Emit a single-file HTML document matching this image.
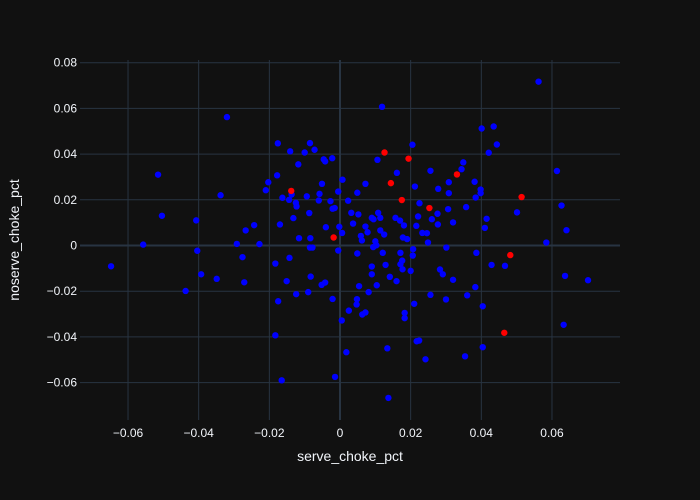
<!DOCTYPE html>
<html>
<head>
<meta charset="utf-8">
<style>
  html,body{margin:0;padding:0;background:#111111;}
  svg{display:block;font-family:"Liberation Sans",sans-serif;}
</style>
</head>
<body>
<svg id="chart" width="700" height="500" viewBox="0 0 700 500">
  <rect x="0" y="0" width="700" height="500" fill="#111111"/>
  <g id="grid"></g>
  <g id="xticks"></g>
  <g id="yticks"></g>
  <g id="blue"></g>
  <g id="red"></g>
  <text x="350" y="461" text-anchor="middle" font-size="14" fill="#f2f5fa">serve_choke_pct</text>
  <text transform="translate(19,240) rotate(-90)" text-anchor="middle" font-size="14" fill="#f2f5fa">noserve_choke_pct</text>
</svg>
<script>
const xTicks = [-0.06,-0.04,-0.02,0,0.02,0.04,0.06];
const yTicks = [-0.06,-0.04,-0.02,0,0.02,0.04,0.06,0.08];
const xTickLabels = ["−0.06","−0.04","−0.02","0","0.02","0.04","0.06"];
const yTickLabels = ["−0.06","−0.04","−0.02","0","0.02","0.04","0.06","0.08"];

const blueX = [-0.032,-0.0515,-0.0338,-0.0504,-0.0407,-0.0267,-0.0243,
0.0119,-0.0176,-0.0085,-0.0141,-0.0100,-0.0072,-0.0046,-0.0042,-0.0022,-0.0118,0.0106,0.0205,0.0161,0.0256,-0.0178,-0.0203,-0.0210,0.0007,-0.0051,0.0072,0.0212,0.0278,-0.0137,-0.0163,-0.0144,-0.0094,-0.0058,-0.0005,0.0049,-0.0060,-0.0027,0.0023,-0.0125,-0.0123,-0.0021,-0.0015,-0.0087,0.0225,-0.0132,-0.0170,0.0032,0.0052,0.0108,0.0090,0.0095,0.0114,0.0157,0.0170,0.0181,0.0221,0.0216,0.0276,0.0260,0.0277,0.0233,0.0246,0.0037,0.0072,-0.0040,-0.0002,0.0006,0.0078,0.0059,0.0114,0.0125,-0.0116,-0.0084,0.0178,0.0190,
0.0562,0.0401,0.0435,0.0444,0.0421,0.0349,0.0344,0.0614,0.0308,0.0381,0.0308,0.0398,0.0398,0.0384,0.0627,0.0306,0.0357,0.0501,0.0415,0.0320,0.0410,0.0641,
-0.0557,-0.0648,-0.0404,-0.0292,-0.0228,-0.0276,-0.0393,-0.0349,-0.0271,-0.0437,
0.0062,0.0100,0.0094,0.0103,0.0249,-0.0085,-0.0078,-0.0005,0.0049,0.0121,0.0171,0.0207,0.0206,-0.0143,-0.0183,0.0090,0.0129,0.0171,0.0176,0.0177,0.0200,0.0090,0.0283,-0.0083,-0.0151,-0.0052,-0.0042,0.0141,0.0160,0.0054,0.0104,0.0081,-0.0124,-0.0090,-0.0021,-0.0175,0.0048,0.0047,0.0256,0.0210,0.0025,0.0063,0.0072,0.0183,0.0183,0.0005,-0.0183,0.0217,0.0224,0.0134,0.0018,0.0242,-0.0014,-0.0165,0.0137,
0.0301,0.0386,0.0584,0.0429,0.0467,0.0291,0.0320,0.0637,0.0702,0.0383,0.0300,0.0360,0.0404,0.0633,0.0404,0.0354];
const blueY = [0.0562,0.0310,0.0220,0.0130,0.0110,0.0066,0.0089,
0.0607,0.0447,0.0448,0.0412,0.0407,0.0419,0.0377,0.0368,0.0382,0.0355,0.0375,0.0441,0.0318,0.0327,0.0307,0.0277,0.0242,0.0288,0.0270,0.0270,0.0258,0.0248,0.0223,0.0209,0.0200,0.0215,0.0226,0.0236,0.0231,0.0197,0.0194,0.0196,0.0187,0.0171,0.0161,0.0164,0.0142,0.0185,0.0120,0.0092,0.0143,0.0136,0.0143,0.0121,0.0115,0.0121,0.0121,0.0109,0.0088,0.0127,0.0086,0.0139,0.0115,0.0092,0.0055,0.0054,0.0096,0.0083,0.0080,0.0082,0.0055,0.0058,0.0042,0.0066,0.0048,0.0032,0.0032,0.0035,0.0028,
0.0717,0.0512,0.0521,0.0442,0.0406,0.0364,0.0334,0.0326,0.0277,0.0279,0.0229,0.0245,0.0229,0.0210,0.0175,0.0159,0.0168,0.0145,0.0117,0.0101,0.0077,0.0067,
0.0004,-0.0091,-0.0023,0.0007,0.0006,-0.0051,-0.0126,-0.0146,-0.0161,-0.0199,
0.0022,0.0018,-0.0007,0.0001,0.0013,-0.0009,-0.0009,-0.0022,-0.0035,-0.0032,-0.0032,-0.0016,-0.0044,-0.0054,-0.0079,-0.0092,-0.0085,-0.0082,-0.0066,-0.0104,-0.0111,-0.0126,-0.0105,-0.0136,-0.0156,-0.0172,-0.0162,-0.0137,-0.0156,-0.0178,-0.0174,-0.0204,-0.0213,-0.0204,-0.0234,-0.0244,-0.0235,-0.0258,-0.0216,-0.0255,-0.0285,-0.0302,-0.0293,-0.0295,-0.0318,-0.0328,-0.0393,-0.0419,-0.0416,-0.0450,-0.0467,-0.0498,-0.0575,-0.0590,-0.0667,
-0.0009,-0.0032,0.0013,-0.0085,-0.0089,-0.0126,-0.0150,-0.0133,-0.0152,-0.0182,-0.0236,-0.0218,-0.0266,-0.0347,-0.0445,-0.0485];

const redX = [0.0126,0.0194,0.0144,-0.0138,0.0175,0.0253,-0.0018,0.0331,0.0514,0.0482,0.0465];
const redY = [0.0407,0.0380,0.0273,0.0239,0.0199,0.0164,0.0035,0.0311,0.0212,-0.0042,-0.0382];

const L=80,R=620,T=60,B=420;
function xs(v){return 340+v*3533;}
function ys(v){return 245.5-v*2285;}
const NS="http://www.w3.org/2000/svg";
function mk(tag,attrs,parent){const e=document.createElementNS(NS,tag);for(const k in attrs)e.setAttribute(k,attrs[k]);parent.appendChild(e);return e;}

const grid=document.getElementById('grid');
xTicks.forEach((t,i)=>{
  const zero=t===0;
  const ln=mk('line',{x1:xs(t),x2:xs(t),y1:T,y2:B,stroke:'#283442','stroke-width':zero?2:1},grid);
  
  
  const tx=mk('text',{x:xs(t),y:B+17,'text-anchor':'middle','font-size':12,fill:'#f2f5fa'},document.getElementById('xticks'));
  tx.textContent=xTickLabels[i];
  
  
});
yTicks.forEach((t,i)=>{
  const zero=t===0;
  const ln=mk('line',{x1:L,x2:R,y1:ys(t),y2:ys(t),stroke:'#283442','stroke-width':zero?2:1},grid);
  
  
  const tx=mk('text',{x:L-3,y:ys(t)+4,'text-anchor':'end','font-size':12,fill:'#f2f5fa'},document.getElementById('yticks'));
  tx.textContent=yTickLabels[i];
  
  
});
const bg=document.getElementById('blue');
blueX.forEach((v,i)=>{
  const c=mk('circle',{cx:xs(v),cy:ys(blueY[i]),r:3.2,fill:'#0000ff'},bg);
  
  
});
const rg=document.getElementById('red');
redX.forEach((v,i)=>{
  const c=mk('circle',{cx:xs(v),cy:ys(redY[i]),r:3.2,fill:'#ff0000'},rg);
  
  
});
</script>
</body>
</html>
